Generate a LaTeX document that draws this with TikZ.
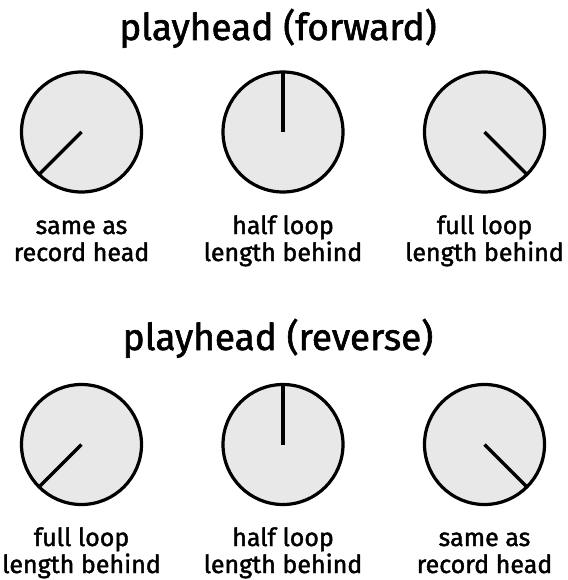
\documentclass[tikz,border=0pt]{standalone}
\usepackage{fontspec}
\setmainfont{Fira Sans}[FakeBold=1.6]
\begin{document}
\begin{tikzpicture}[x=1pt,y=-1pt,
  knob/.style={circle,draw=black,line width=3.2pt,fill=gray!18,minimum size=120pt,inner sep=0pt,outer sep=0pt},
  needle/.style={line width=3.2pt},
  title/.style={anchor=base,inner sep=0pt,font=\fontsize{37}{40}\selectfont},
  lbl/.style={anchor=base,inner sep=0pt,font=\fontsize{25}{27}\selectfont}]
\useasboundingbox[fill=white] (0,0) rectangle (567,580);
% titles
\node[title] (t1) at (278,40) {playhead (forward)};
\node[title] (t2) at (278,350) {playhead (reverse)};
% forward knobs
\node[knob] (f1) at (81.5,132) {};
\node[knob] (f2) at (283,132) {};
\node[knob] (f3) at (484.5,132) {};
\draw[needle] (f1.center) -- (f1.225);
\draw[needle] (f2.center) -- (f2.90);
\draw[needle] (f3.center) -- (f3.315);
% reverse knobs
\node[knob] (r1) at (81.5,444.5) {};
\node[knob] (r2) at (283,444.5) {};
\node[knob] (r3) at (484.5,444.5) {};
\draw[needle] (r1.center) -- (r1.225);
\draw[needle] (r2.center) -- (r2.90);
\draw[needle] (r3.center) -- (r3.315);
% forward labels
\node[lbl] (fl1a) at (81.5,234) {same as};
\node[lbl] (fl1b) at (81.5,261) {record head};
\node[lbl] (fl2a) at (283,234) {half loop};
\node[lbl] (fl2b) at (283,261) {length behind};
\node[lbl] (fl3a) at (484.5,234) {full loop};
\node[lbl] (fl3b) at (484.5,261) {length behind};
% reverse labels
\node[lbl] (rl1a) at (81.5,546) {full loop};
\node[lbl] (rl1b) at (81.5,573) {length behind};
\node[lbl] (rl2a) at (283,546) {half loop};
\node[lbl] (rl2b) at (283,573) {length behind};
\node[lbl] (rl3a) at (484.5,546) {same as};
\node[lbl] (rl3b) at (484.5,573) {record head};
\end{tikzpicture}
\end{document}
